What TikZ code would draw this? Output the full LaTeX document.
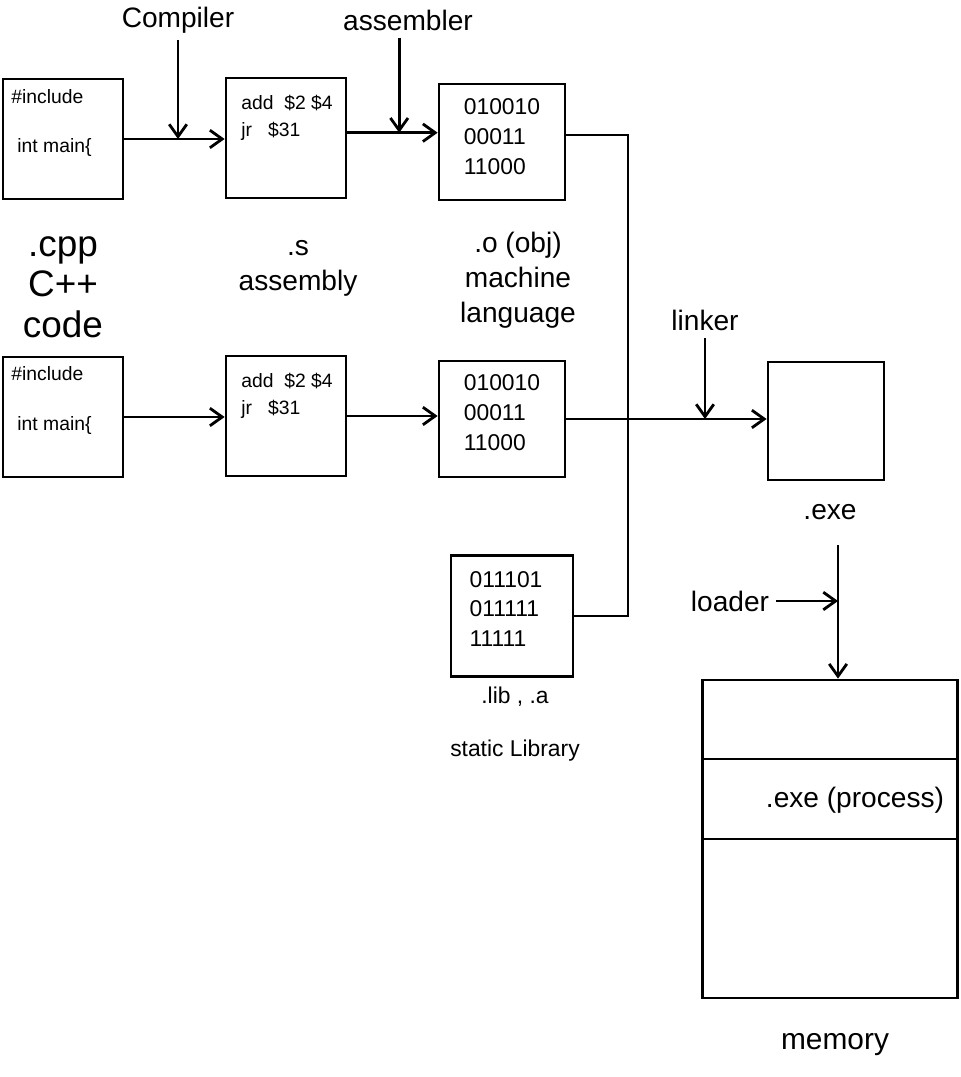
\documentclass[tikz,border=0pt]{standalone}
\usepackage{fontspec}
\setmainfont{Liberation Sans}
\usetikzlibrary{arrows.meta}
\tikzset{
  box/.style={draw, line width=1.6pt, minimum width=2.4cm, minimum height=2.4cm, inner sep=0pt},
  code/.style={anchor=west, inner sep=0pt, font=\fontsize{11}{13}\selectfont},
  bits/.style={align=left, inner sep=0pt, font=\fontsize{13}{17}\selectfont},
  tool/.style={font=\fontsize{16}{18}\selectfont},
  kind/.style={align=center, font=\fontsize{16}{20}\selectfont},
  wire/.style={line width=1.6pt},
}
\begin{document}
\begin{tikzpicture}[x=0.02cm, y=-0.02cm, line width=1.6pt, >={Straight Barb[length=7pt,width=10pt]}]
  \useasboundingbox (0,0) rectangle (960,1077);

  % first source file
  \node[box] (cpp1) at (63,139) {};
  \node[code] at (10,97) {\#include};
  \node[code] at (16,148) {int main\{};
  \node[box] (asm1) at (286,138) {};
  \node[code] at (240,103) {add \ \$2 \$4};
  \node[code] at (240,131) {jr \ \ \$31};
  \node[box, minimum width=2.52cm, minimum height=2.32cm] (obj1) at (502,142) {};
  \node[bits] at (502,137) {010010\\00011\\11000};

  % second source file
  \node[box] (cpp2) at (63,417) {};
  \node[code] at (10,374) {\#include};
  \node[code] at (16,426) {int main\{};
  \node[box] (asm2) at (286,416) {};
  \node[code] at (240,381) {add \ \$2 \$4};
  \node[code] at (240,409) {jr \ \ \$31};
  \node[box, minimum width=2.52cm, minimum height=2.32cm] (obj2) at (502,419) {};
  \node[bits] at (502,413) {010010\\00011\\11000};

  \node[box, minimum width=2.44cm, minimum height=2.42cm] (lib) at (512,616) {};
  \node[bits] at (506,609) {011101\\011111\\11111};

  \node[box, minimum width=2.32cm, minimum height=2.36cm] (exe) at (826,421) {};
  \node[box, minimum width=5.1cm, minimum height=6.36cm] (mem) at (830,839) {};
  \draw[wire] (mem.west |- 0,759) -- (mem.east |- 0,759);
  \draw[wire] (mem.west) -- (mem.east);

  % tools
  \node[tool] (compiler) at (178,20) {Compiler};
  \node[tool] (assembler) at (408,20) {assembler};
  \node[tool] (linker) at (705,320) {linker};
  \node[tool] (loader) at (730,601) {loader};

  % labels
  \node[kind, font=\fontsize{21}{23}\selectfont] at (63,287) {.cpp\\C++\\code};
  \node[kind] at (298,268) {.s\\assembly};
  \node[kind] at (518,280) {.o (obj)\\machine\\language};
  \node[kind, font=\fontsize{13}{22}\selectfont] at (515,724) {.lib , .a\\[8pt]static Library};
  \node[kind] (exelbl) at (830,512) {.exe};
  \node[kind] at (855,800) {.exe (process)};
  \node[kind, font=\fontsize{17}{20}\selectfont] at (835,1045) {memory};

  % connectors
  \coordinate (bus) at (628,400);
  \coordinate (ldtop) at (838,545);
  \draw[wire, ->] (cpp1.east) -- (cpp1.east -| asm1.west);
  \draw[wire, ->] ([yshift=3]asm1.east) -- ([yshift=3]asm1.east -| obj1.west);
  \draw[wire, ->] (cpp2.east) -- (cpp2.east -| asm2.west);
  \draw[wire, ->] (asm2.east) -- (asm2.east -| obj2.west);
  \draw[wire, ->] (obj2.east) -- (obj2.east -| exe.west);
  \draw[wire] ([yshift=4]obj1.east) -| (bus) |- (lib.east);
  \draw[wire, ->] (compiler.south) -- (compiler.south |- cpp1.east);
  \draw[wire, ->] ([xshift=-5]assembler.south) -- ([xshift=-5,yshift=3]assembler.south |- asm1.east);
  \draw[wire, ->] (linker.south) -- (linker.south |- obj2.east);
  \draw[wire, ->] (ldtop) -- (ldtop |- mem.north);
  \draw[wire, ->] (loader.east) -- (loader.east -| ldtop);
\end{tikzpicture}
\end{document}
